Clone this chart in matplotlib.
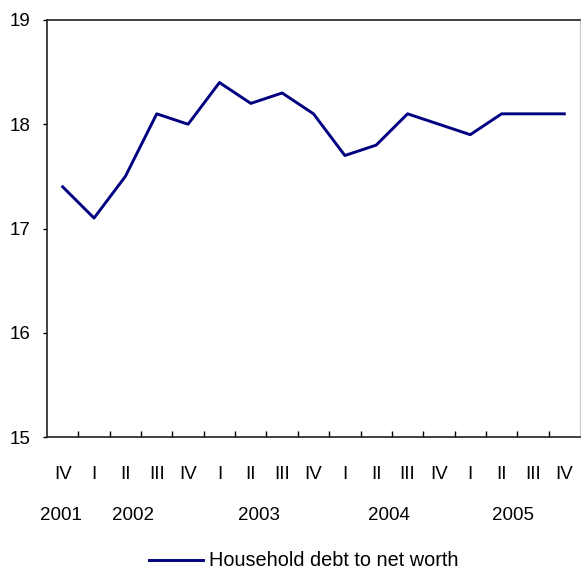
import matplotlib
matplotlib.use("Agg")
import matplotlib.pyplot as plt
import numpy as np

quarters = ["IV", "I", "II", "III", "IV", "I", "II", "III", "IV",
            "I", "II", "III", "IV", "I", "II", "III", "IV"]
years = ["2001", "2002", "2003", "2004", "2005"]
year_pos = [-0.05, 2.25, 6.25, 10.4, 14.35]
debt_to_worth = [17.4, 17.1, 17.5, 18.1, 18.0, 18.4, 18.2, 18.3, 18.1,
                 17.7, 17.8, 18.1, 18.0, 17.9, 18.1, 18.1, 18.1]

plt.rcParams['font.family'] = ['Liberation Sans', 'DejaVu Sans']
fs = 13.5

fig = plt.figure(figsize=(5.81, 5.72), dpi=100)
ax = fig.add_axes([47 / 581, 1 - 437 / 572, 533 / 581, 417 / 572])

x = np.arange(len(debt_to_worth))
line, = ax.plot(x, debt_to_worth, color='#000080', linewidth=2.1,
                label='Household debt to net worth')

ax.set_xlim(-0.5, len(x) - 0.5)
ax.set_ylim(15, 19)
ax.set_yticks([15, 16, 17, 18, 19])
ax.tick_params(axis='y', direction='out', length=3, width=1, labelsize=fs, pad=9)

# quarter labels without tick marks, ticks drawn between quarters
ax.set_xticks(x)
ax.set_xticklabels(quarters, fontsize=fs)
ax.tick_params(axis='x', which='major', length=0, pad=21)
ax.set_xticks(x[:-1] + 0.5, minor=True)
ax.tick_params(axis='x', which='minor', direction='in', length=4, width=1)

for yr, p in zip(years, year_pos):
    ax.text(p, -(516 - 437) / 417, yr, transform=ax.get_xaxis_transform(),
            ha='center', va='center', fontsize=fs)

for side in ['left', 'bottom', 'top']:
    ax.spines[side].set_color('#202020')
    ax.spines[side].set_linewidth(1.2)
ax.spines['right'].set_color('#c8c8c8')

fig.legend(handles=[line], loc='center', bbox_to_anchor=(304 / 581, 1 - 561 / 572),
           frameon=False, fontsize=14.3, handlelength=2.7, handletextpad=0.3)

fig.savefig('out.png', dpi=100)
